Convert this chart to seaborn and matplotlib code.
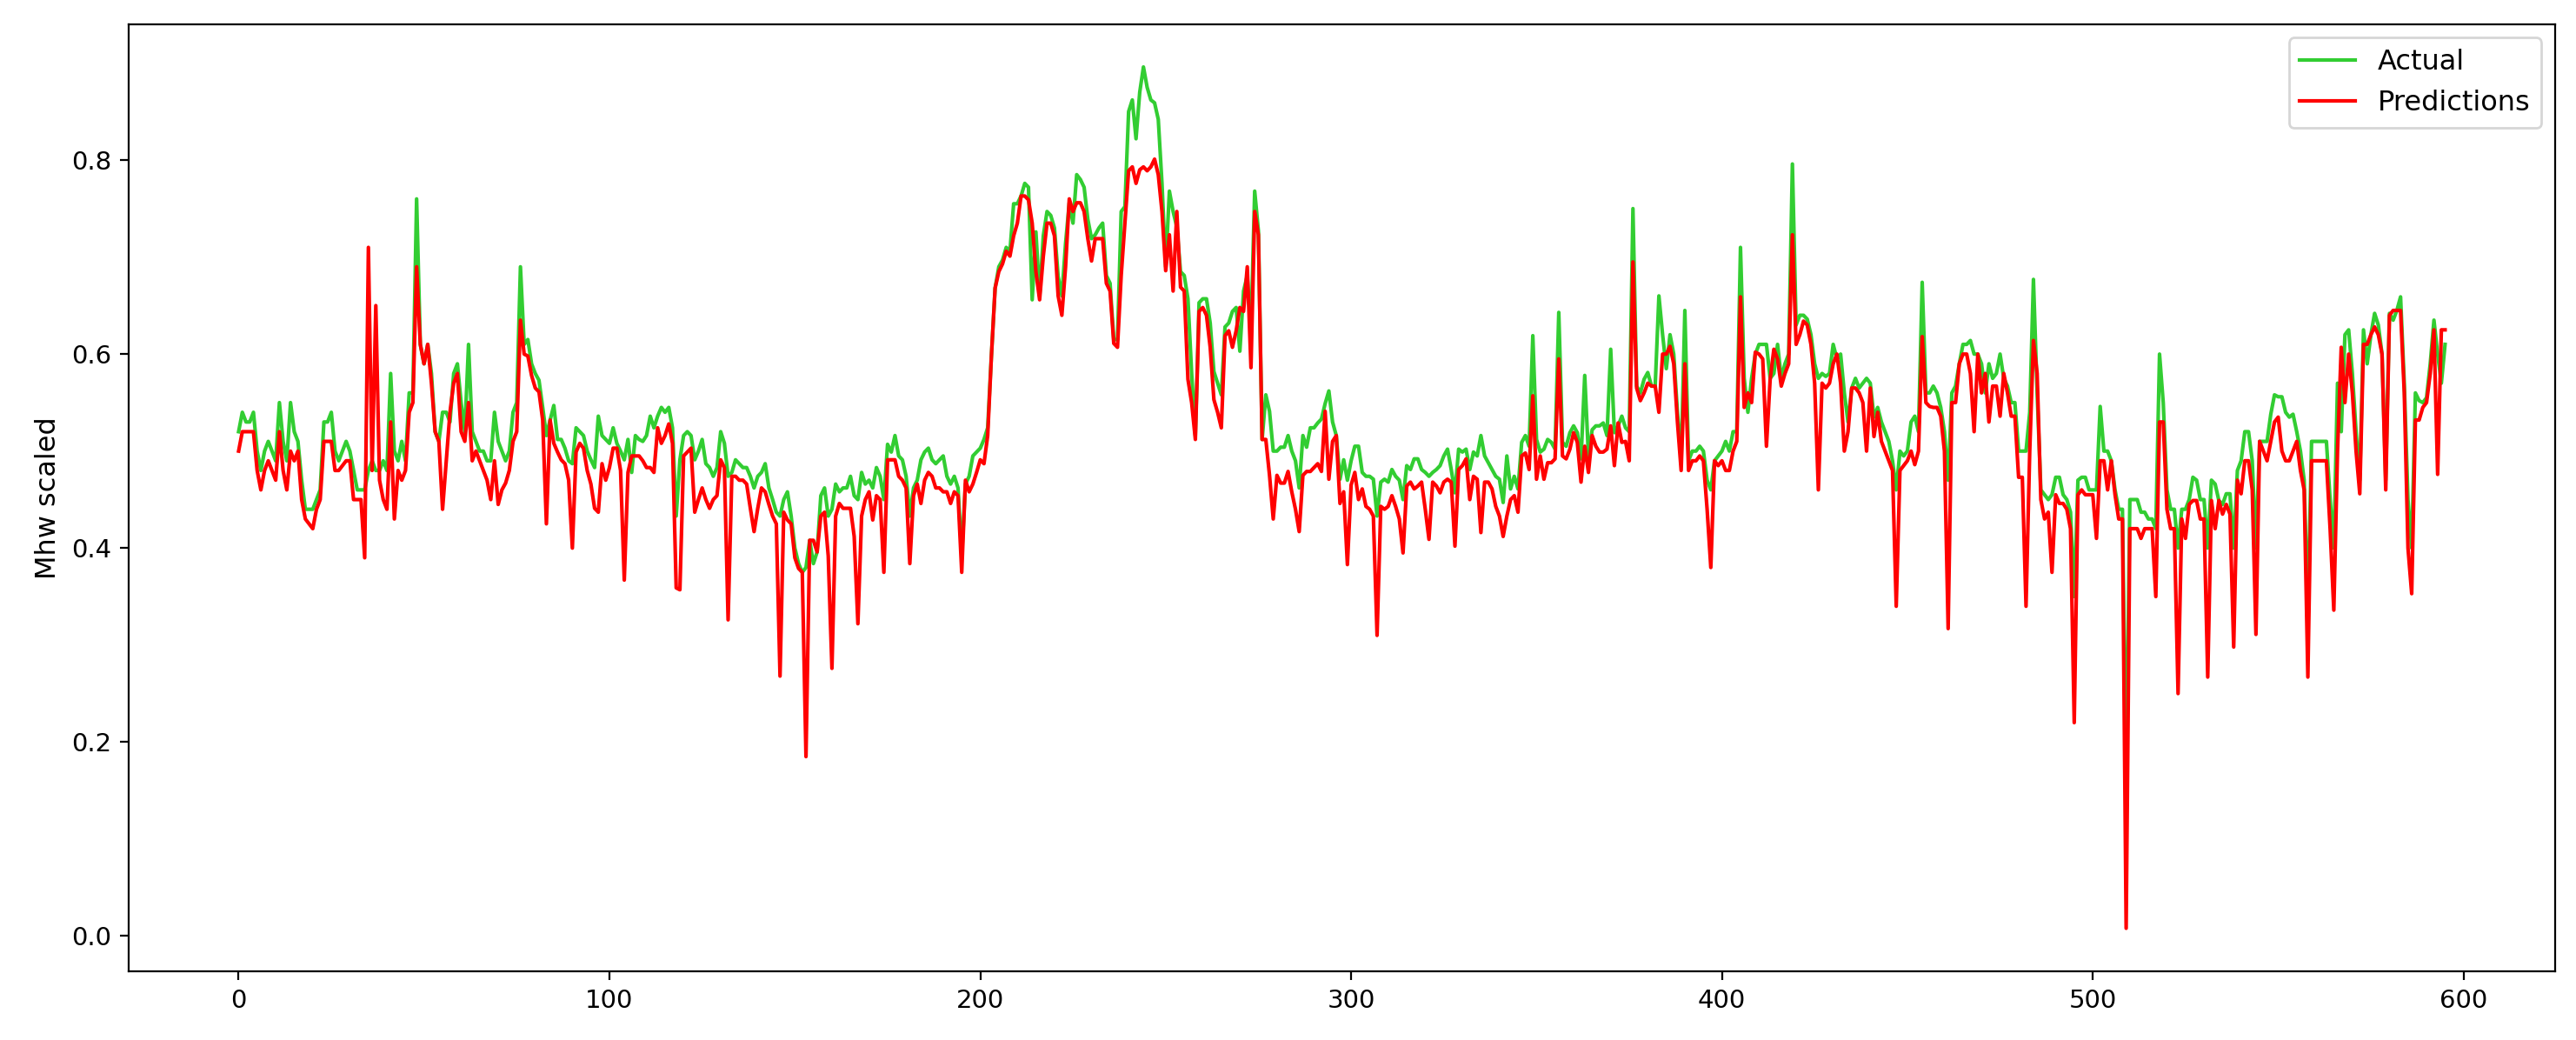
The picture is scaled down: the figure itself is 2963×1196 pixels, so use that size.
import numpy as np
import matplotlib
matplotlib.use('Agg')
import matplotlib.pyplot as plt
import seaborn as sns

plt.rcParams['font.family'] = 'DejaVu Sans'
plt.rcParams['font.size'] = 11

# valores (serie escalada)
actual = [
    .52, .54, .53, .53, .54, .50, .48, .50, .51, .50,
    .49, .55, .51, .49, .55, .52, .51, .47, .44, .44,
    .44, .45, .46, .53, .53, .54, .50, .49, .50, .51,
    .50, .48, .46, .46, .46, .48, .49, .48, .48, .49,
    .48, .58, .50, .49, .51, .49, .56, .56, .76, .61,
    .59, .61, .58, .52, .51, .54, .54, .53, .58, .59,
    .55, .52, .61, .52, .51, .50, .50, .49, .49, .54,
    .51, .50, .49, .50, .54, .55, .69, .61, .615, .59,
    .58, .573, .545, .516, .532, .547, .512, .512, .503, .49,
    .487, .524, .52, .516, .50, .491, .483, .536, .516, .512,
    .508, .524, .508, .50, .491, .512, .478, .516, .512, .51,
    .516, .536, .524, .536, .545, .54, .545, .524, .433, .491,
    .516, .52, .516, .491, .50, .512, .487, .483, .474, .483,
    .52, .508, .474, .478, .491, .487, .483, .483, .474, .462,
    .474, .478, .487, .462, .45, .437, .433, .45, .458, .433,
    .40, .384, .375, .38, .408, .384, .396, .454, .462, .433,
    .44, .466, .458, .462, .462, .474, .454, .45, .478, .466,
    .47, .462, .483, .474, .45, .507, .499, .516, .495, .491,
    .474, .433, .462, .47, .491, .499, .503, .491, .487, .491,
    .495, .474, .466, .474, .462, .392, .466, .474, .495, .499,
    .503, .512, .524, .598, .668, .69, .697, .71, .706, .755,
    .755, .763, .776, .772, .656, .726, .66, .722, .747, .743,
    .73, .68, .66, .714, .756, .735, .785, .78, .772, .739,
    .719, .723, .73, .735, .681, .673, .615, .615, .747, .752,
    .85, .862, .822, .87, .896, .875, .862, .859, .842, .776,
    .69, .768, .747, .731, .685, .681, .657, .58, .516, .653,
    .657, .657, .632, .582, .57, .558, .628, .632, .644, .648,
    .603, .665, .681, .624, .768, .727, .512, .558, .541, .50,
    .50, .504, .504, .516, .50, .49, .462, .516, .504, .524,
    .524, .529, .533, .549, .562, .53, .516, .471, .491, .47,
    .49, .505, .505, .478, .474, .474, .471, .433, .468, .471,
    .468, .481, .474, .47, .45, .485, .481, .492, .492, .481,
    .478, .474, .478, .481, .485, .495, .502, .481, .457, .502,
    .499, .502, .481, .499, .495, .516, .495, .488, .481, .474,
    .471, .447, .495, .461, .474, .461, .509, .516, .505, .619,
    .512, .499, .502, .512, .509, .502, .643, .509, .505, .519,
    .526, .519, .492, .578, .495, .522, .526, .526, .529, .516,
    .605, .519, .526, .536, .524, .52, .75, .567, .56, .574,
    .581, .567, .567, .66, .62, .585, .62, .60, .54, .49,
    .645, .49, .50, .50, .505, .50, .47, .46, .49, .495,
    .50, .51, .50, .52, .52, .71, .575, .54, .575, .60,
    .61, .61, .61, .575, .58, .61, .575, .59, .60, .796,
    .63, .64, .64, .636, .62, .59, .575, .58, .577, .58,
    .61, .595, .60, .56, .53, .565, .575, .565, .57, .575,
    .57, .535, .545, .53, .52, .51, .49, .46, .50, .495,
    .50, .53, .536, .52, .674, .56, .56, .567, .56, .545,
    .52, .47, .56, .567, .59, .61, .61, .614, .60, .60,
    .59, .56, .59, .575, .58, .60, .575, .567, .55, .55,
    .50, .50, .50, .54, .677, .56, .46, .455, .45, .455,
    .473, .473, .455, .45, .437, .35, .47, .473, .473, .46,
    .46, .46, .546, .50, .50, .49, .46, .44, .44, .155,
    .45, .45, .45, .437, .437, .43, .43, .42, .60, .55,
    .46, .44, .44, .40, .44, .44, .45, .473, .47, .45,
    .45, .40, .47, .466, .449, .445, .456, .456, .40, .48,
    .49, .52, .52, .49, .40, .51, .51, .51, .538, .558,
    .556, .556, .54, .535, .538, .52, .50, .47, .33, .51,
    .51, .51, .51, .51, .45, .40, .57, .52, .62, .625,
    .58, .52, .47, .625, .59, .62, .642, .63, .60, .47,
    .642, .635, .645, .659, .57, .45, .40, .56, .552, .55,
    .555, .59, .635, .60, .57, .61,
]

predictions = [
    .50, .52, .52, .52, .52, .48, .46, .48, .49, .48,
    .47, .52, .48, .46, .50, .49, .50, .45, .43, .425,
    .42, .44, .45, .51, .51, .51, .48, .48, .485, .49,
    .49, .45, .45, .45, .39, .71, .48, .65, .47, .45,
    .44, .53, .43, .48, .47, .48, .54, .55, .69, .61,
    .59, .61, .57, .52, .51, .44, .49, .54, .57, .58,
    .52, .51, .55, .49, .50, .49, .48, .47, .45, .49,
    .445, .46, .467, .48, .51, .52, .635, .60, .598, .578,
    .565, .561, .532, .425, .532, .508, .499, .491, .487, .47,
    .40, .499, .508, .503, .48, .466, .441, .437, .487, .47,
    .483, .503, .503, .48, .367, .478, .495, .495, .495, .49,
    .483, .483, .478, .524, .508, .516, .528, .508, .359, .357,
    .495, .499, .503, .437, .45, .462, .45, .441, .45, .454,
    .491, .483, .326, .474, .474, .47, .47, .466, .441, .417,
    .441, .462, .458, .445, .433, .425, .268, .437, .429, .425,
    .39, .379, .375, .185, .408, .408, .396, .433, .437, .392,
    .276, .433, .446, .441, .441, .441, .412, .322, .433, .45,
    .458, .429, .454, .45, .375, .491, .491, .491, .474, .47,
    .462, .384, .454, .466, .446, .47, .478, .474, .462, .462,
    .458, .458, .446, .458, .454, .375, .47, .458, .466, .478,
    .491, .487, .516, .598, .668, .685, .693, .706, .701, .722,
    .735, .763, .763, .759, .735, .685, .656, .701, .735, .735,
    .722, .66, .64, .69, .76, .747, .756, .756, .747, .719,
    .696, .719, .719, .719, .673, .665, .611, .607, .681, .735,
    .789, .793, .776, .79, .793, .789, .793, .801, .785, .747,
    .686, .723, .665, .747, .669, .665, .574, .55, .512, .644,
    .648, .64, .607, .553, .54, .524, .619, .624, .607, .624,
    .648, .644, .69, .586, .747, .723, .512, .512, .475, .43,
    .475, .467, .467, .479, .458, .44, .417, .475, .479, .479,
    .483, .487, .479, .541, .471, .51, .516, .446, .458, .383,
    .465, .478, .45, .461, .443, .44, .433, .31, .443, .44,
    .443, .454, .443, .43, .395, .464, .468, .461, .464, .468,
    .44, .409, .468, .464, .457, .468, .471, .468, .402, .481,
    .485, .492, .45, .474, .471, .416, .468, .468, .461, .443,
    .433, .412, .433, .45, .454, .437, .495, .498, .481, .557,
    .471, .495, .471, .488, .488, .492, .595, .495, .492, .502,
    .519, .509, .468, .505, .478, .516, .505, .499, .499, .502,
    .526, .485, .529, .509, .51, .49, .695, .565, .552, .56,
    .57, .567, .567, .54, .60, .60, .608, .59, .53, .48,
    .59, .48, .49, .49, .495, .49, .44, .38, .49, .485,
    .49, .48, .48, .50, .51, .659, .545, .56, .55, .602,
    .60, .595, .505, .574, .605, .595, .567, .58, .59, .723,
    .61, .62, .634, .63, .61, .57, .46, .57, .565, .57,
    .59, .60, .57, .50, .52, .565, .565, .56, .55, .50,
    .565, .515, .54, .51, .50, .49, .48, .34, .48, .485,
    .49, .50, .486, .50, .618, .55, .546, .545, .545, .536,
    .50, .317, .55, .55, .59, .60, .60, .58, .52, .60,
    .56, .58, .53, .567, .567, .536, .58, .56, .536, .536,
    .473, .473, .34, .50, .614, .58, .45, .43, .437, .375,
    .455, .446, .446, .44, .42, .22, .455, .46, .455, .455,
    .455, .41, .49, .49, .46, .49, .455, .43, .43, .008,
    .42, .42, .42, .41, .42, .42, .42, .35, .53, .53,
    .44, .42, .42, .25, .43, .41, .445, .449, .449, .43,
    .43, .267, .449, .42, .449, .435, .445, .435, .298, .47,
    .456, .49, .49, .46, .311, .51, .50, .49, .51, .53,
    .535, .50, .49, .49, .50, .51, .48, .46, .267, .49,
    .49, .49, .49, .49, .42, .336, .50, .607, .55, .60,
    .56, .50, .456, .61, .61, .62, .628, .62, .60, .46,
    .64, .645, .645, .645, .56, .40, .353, .532, .532, .545,
    .55, .58, .625, .476, .625, .625,
]

idx = np.arange(len(actual))

fig = plt.figure(figsize=(14.815, 5.98), dpi=200)
ax = fig.add_axes([0.0498, 0.066, 0.9422, 0.911])

sns.lineplot(x=idx, y=actual, color='limegreen', linewidth=1.5, label='Actual', ax=ax)
sns.lineplot(x=idx, y=predictions, color='red', linewidth=1.5, label='Predictions', ax=ax)

ax.set_ylabel('Mhw scaled', fontsize=11.5)
ax.set_xticks([0, 100, 200, 300, 400, 500, 600])
ax.tick_params(labelsize=10.5)
ax.legend(loc='upper right', fontsize=11.5)

fig.savefig('out.png', dpi=200)
